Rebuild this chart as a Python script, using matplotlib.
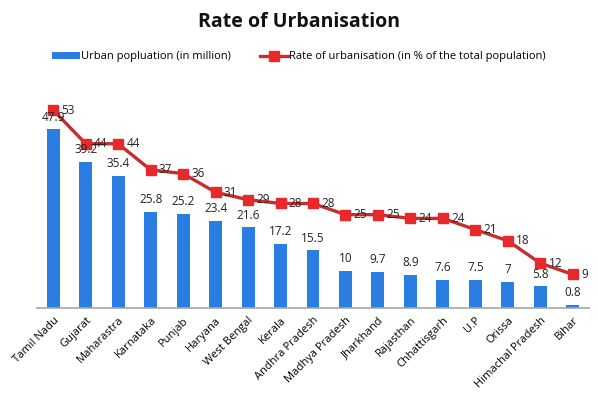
import matplotlib
matplotlib.use("Agg")
import matplotlib.pyplot as plt
from matplotlib.patches import Patch
from matplotlib.lines import Line2D

states = ["Tamil Nadu", "Gujarat", "Maharastra", "Karnataka", "Punjab", "Haryana",
          "West Bengal", "Kerala", "Andhra Pradesh", "Madhya Pradesh", "Jharkhand",
          "Rajasthan", "Chhattisgarh", "U.P", "Orissa", "Himachal Pradesh", "Bihar"]
urban_pop = [47.9, 39.2, 35.4, 25.8, 25.2, 23.4, 21.6, 17.2, 15.5, 10, 9.7, 8.9, 7.6, 7.5, 7, 5.8, 0.8]
urban_rate = [53, 44, 44, 37, 36, 31, 29, 28, 28, 25, 25, 24, 24, 21, 18, 12, 9]

bar_color = "#2a7de1"
line_color = "#c62d2d"
marker_color = "#e8292b"

plt.rcParams['font.family'] = ['Open Sans', 'DejaVu Sans']

fig = plt.figure(figsize=(5.98, 3.95), dpi=100)
ax = fig.add_axes([37/598, 1-308/395, (589-37)/598, (308-84)/395])

x = list(range(len(states)))
ax.bar(x, urban_pop, width=0.4, color=bar_color, zorder=2)
ax.plot(x, urban_rate, color=line_color, lw=2.4, marker="s", markersize=7.5,
        markerfacecolor=marker_color, markeredgecolor=marker_color, zorder=3)

for xi, v in zip(x, urban_pop):
    ax.annotate(f"{v:g}", (xi, v), xytext=(0, 4), textcoords="offset points",
                ha="center", va="bottom", fontsize=8.5, color="#222222", zorder=4)
for xi, v in zip(x, urban_rate):
    ax.annotate(f"{v:g}", (xi, v), xytext=(6, 0), textcoords="offset points",
                ha="left", va="center", fontsize=8.5, color="#222222", zorder=4)

ax.set_xlim(-0.5, len(states) - 0.5)
ax.set_ylim(0, 60)
ax.set_xticks(x)
ax.set_xticklabels(states, rotation=45, ha="right", rotation_mode="anchor", fontsize=8)
ax.tick_params(axis="x", length=0, pad=5)
ax.set_yticks([])
for s in ["top", "right", "left"]:
    ax.spines[s].set_visible(False)
ax.spines["bottom"].set_color("#a6a6a6")
ax.spines["bottom"].set_linewidth(1.2)

fig.text(0.5, 1-22/395, "Rate of Urbanisation", ha="center", va="center",
         fontsize=14, fontweight="bold", color="#111111")

handles = [Patch(facecolor=bar_color, edgecolor="none"),
           Line2D([0], [0], color=line_color, lw=2.4, marker="s", markersize=7.5,
                  markerfacecolor=marker_color, markeredgecolor=marker_color)]
fig.legend(handles, ["Urban popluation (in million)",
                     "Rate of urbanisation (in % of the total population)"],
           loc="center", bbox_to_anchor=(0.5, 1-57/395), ncol=2, frameon=False,
           fontsize=8, handlelength=2.5, handleheight=0.6, handletextpad=0.1,
           columnspacing=2.6)

fig.savefig("out.png", dpi=100)
